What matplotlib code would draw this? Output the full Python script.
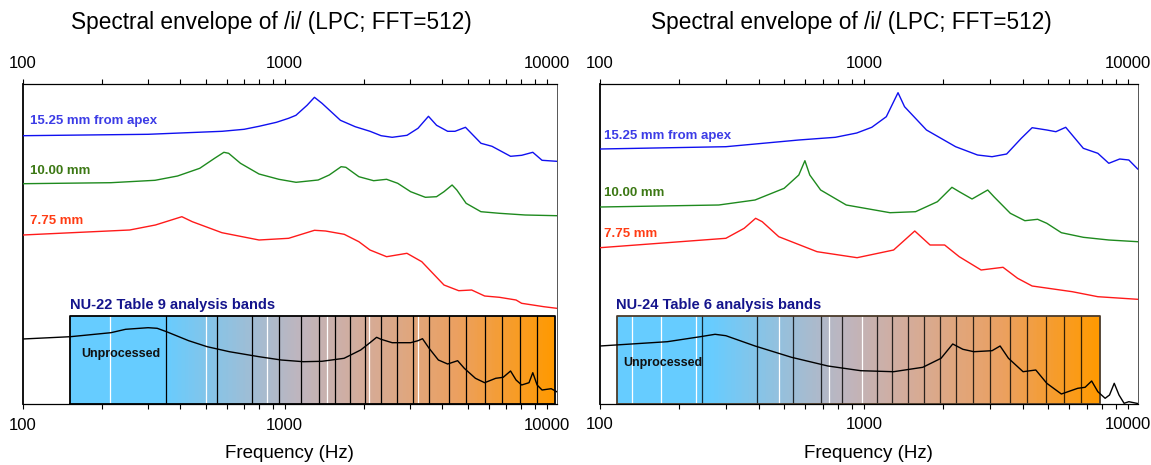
import numpy as np
import matplotlib
matplotlib.use("Agg")
import matplotlib.pyplot as plt
from matplotlib.colors import LinearSegmentedColormap
from matplotlib.ticker import LogLocator, FuncFormatter, NullFormatter
import matplotlib.transforms as mtransforms

plt.rcParams['font.family'] = ['Liberation Sans', 'DejaVu Sans']

# ---------------- data: left panel (NU-22) ----------------
L_BLUE_F = [100, 301, 577, 700, 798, 930, 1035, 1104, 1217, 1299, 1388, 1632, 1858, 2117, 2333, 2572,
            2930, 3227, 3538, 3800, 4188, 4467, 4898, 5614, 6183, 7280, 8027, 8851, 9600, 10920]
L_BLUE_Y = [268.6, 270, 273, 275, 278, 282, 286, 289, 299, 307, 301, 284, 277.6, 273, 268.6, 267,
            269, 276, 288, 279, 273, 273, 277, 261, 258, 248, 249, 252, 244, 243]

L_GREEN_F = [100, 217, 320, 390, 474, 540, 586, 611, 678, 798, 950, 1105, 1342, 1479, 1642, 1712, 1919,
             2185, 2449, 2700, 3025, 3443, 3798, 4055, 4355, 4539, 4926, 5610, 6600, 8285, 10920]
L_GREEN_Y = [220.6, 221.6, 224, 228.3, 236, 246, 252, 251, 241, 230.3, 225, 222, 224.3, 229.3, 237.6, 237,
             227.6, 223.6, 225, 221, 212.6, 207, 207.6, 212.6, 219.3, 214.3, 201, 192.6, 191, 189.3, 188.6]

L_RED_F = [100, 256, 321, 405, 444, 576, 798, 1035, 1299, 1432, 1687, 1919, 2116, 2449, 2928,
           3336, 3676, 4055, 4616, 5172, 5797, 6600, 7640, 8024, 8850, 9750, 10920]
L_RED_Y = [169.3, 174.3, 179.3, 187.6, 182.6, 171.6, 164.3, 166, 174, 173.3, 170, 162.6, 154.3, 147.6, 151,
           142.6, 131, 119.3, 113.6, 114.3, 108.3, 107, 104.3, 101, 99.3, 97.6, 96]

L_BLACK_F = [100, 152, 217, 247, 301, 326, 354, 430, 506, 615, 798, 970, 1178, 1387, 1685, 1950,
             2116, 2243, 2332, 2571, 3025, 3228, 3357, 3558, 3860, 4188, 4572, 4848, 5345, 5797,
             6390, 6823, 7280, 7640, 8024, 8561, 8851, 9193, 9600, 10404, 10920]
L_BLACK_Y = [65.3, 67.6, 71.6, 75, 76.6, 76, 72.6, 63.6, 57.6, 52.6, 47.6, 44.3, 42.6, 43, 46, 54.3,
             61.6, 67, 65, 61.6, 61.6, 63.6, 65.6, 56, 44.3, 40.3, 43.6, 36, 26, 21.6,
             26, 27, 33.3, 24.3, 19.3, 21.6, 31.6, 19.3, 14.3, 15.6, 12.6]

L_BAND_RANGE = [152, 10760]
L_BAND_BLACK = [352, 550, 752, 949, 1151, 1352, 1556, 1775, 2030, 2337, 2676, 3080, 3565,
                4227, 4920, 5798, 6769, 7888, 9183]
L_BAND_WHITE = [216, 502, 854, 1454, 2103, 3236]

# ---------------- data: right panel (NU-24) ----------------
R_BLUE_F = [100, 300, 567, 780, 940, 1072, 1217, 1348, 1427, 1728, 2228, 2698, 3063, 3479, 3953,
            4346, 4939, 5346, 5826, 6792, 7711, 8485, 9333, 10107, 10920]
R_BLUE_Y = [255, 257.3, 264, 266.7, 271, 276.7, 287.3, 311.3, 297.3, 274, 257.3, 249, 247.3, 250, 265.7,
            276.3, 274, 272.3, 276.7, 255.7, 250.7, 240.7, 245, 244, 235]

R_GREEN_F = [100, 282, 387, 499, 567, 598, 624, 686, 858, 1257, 1571, 1901, 2158, 2300, 2572,
             2949, 3113, 3592, 4079, 4560, 4939, 5609, 6792, 8485, 10920]
R_GREEN_Y = [197, 199, 204, 215.7, 229, 243.3, 229, 214, 199, 191.3, 192.3, 202.3, 216.7, 212.3, 205,
             214, 207.3, 190.7, 183.3, 184.7, 180.7, 171.3, 166.7, 164, 162.3]

R_RED_F = [100, 300, 352, 389, 412, 476, 665, 943, 1297, 1560, 1783, 2025, 2300, 2784, 3371,
           3828, 4346, 6170, 7711, 10920]
R_RED_Y = [156.3, 165.7, 175.7, 185.7, 182.3, 167.3, 152.3, 146.3, 154, 173, 159, 159, 147.3, 134, 136.7,
           125.7, 118, 112.3, 107.3, 104.7]

R_BLACK_F = [100, 180, 240, 273, 300, 387, 532, 731, 974, 1297, 1673, 1962, 2173, 2375, 2613,
             3063, 3286, 3535, 4015, 4487, 4939, 5609, 6471, 6900, 7306, 7711, 8219, 8538,
             8898, 9276, 9698, 10107, 10920]
R_BLACK_Y = [58, 62.3, 67.3, 69.7, 68.3, 58, 46.7, 38, 33.3, 32.3, 36.7, 45.7, 60, 54.7, 52.3,
             53.3, 58, 45.7, 32.3, 34, 20.7, 10, 15.7, 16.7, 23, 12.3, 5.7, 9,
             20.7, 9, 0.7, 2.3, 0.5]

R_BAND_RANGE = [116, 7884]
R_BAND_BLACK = [243, 393, 541, 688, 830, 1121, 1278, 1470, 1695, 1949, 2241, 2594, 3016,
                3570, 4157, 4920, 5723, 6679]
R_BAND_WHITE = [132, 171, 231, 475, 739, 983]

TITLE = "Spectral envelope of /i/ (LPC; FFT=512)"
SERIES_LABELS = ["15.25 mm from apex", "10.00 mm", "7.75 mm"]
LEFT_BAND_TITLE = "NU-22 Table 9 analysis bands"
RIGHT_BAND_TITLE = "NU-24 Table 6 analysis bands"
UNPROC = "Unprocessed"
XTICKS = [100, 1000, 10000]

# ---------------- style ----------------
C_BLUE, C_GREEN, C_RED = '#1010F0', '#1E8A1E', '#FF1A1A'
T_BLUE, T_GREEN, T_RED, T_NAVY = '#3C3CE6', '#3C7814', '#FF3C14', '#14148C'

band_cmap = LinearSegmentedColormap.from_list(
    'band', [(0.0, '#66CCFF'), (0.19, '#66CCFF'), (0.47, '#BEB5BE'),
             (0.60, '#D4AC9B'), (0.80, '#EBA060'), (1.0, '#FF9900')])

W, H = 1151, 465
fig = plt.figure(figsize=(W / 100, H / 100), dpi=100)


def px_axes(x0, x1, y0, y1):
    return fig.add_axes([x0 / W, 1 - y1 / H, (x1 - x0) / W, (y1 - y0) / H])


def setup(ax):
    ax.set_xscale('log')
    ax.set_xlim(100, 10920)
    ax.set_ylim(0, 320)
    ax.set_yticks([])
    ax.xaxis.set_major_locator(LogLocator(base=10))
    ax.xaxis.set_minor_locator(LogLocator(base=10, subs=np.arange(2, 10)))
    ax.xaxis.set_major_formatter(FuncFormatter(lambda v, p: f"{int(round(v))}"))
    ax.xaxis.set_minor_formatter(NullFormatter())
    ax.set_xticks(XTICKS)
    ax.tick_params(axis='x', which='both', top=True, bottom=True, labeltop=True,
                   labelbottom=True, direction='out', length=3.6, width=0.8,
                   labelsize=12, pad=6)
    for s in ['top', 'bottom']:
        ax.spines[s].set_linewidth(0.9)
    ax.spines['left'].set_linewidth(1.3)
    ax.spines['right'].set_linewidth(0.7)
    ax.spines['right'].set_color('#555555')
    ax.set_xlabel('Frequency (Hz)', fontsize=13.5, labelpad=9)


def draw_band(ax, rng, blacks, whites, edge, line_alpha):
    xe = np.geomspace(rng[0], rng[1], 400)
    vals = np.linspace(0, 1, len(xe) - 1)[None, :]
    ax.pcolormesh(xe, [0, 88], vals, cmap=band_cmap, shading='flat', zorder=1)
    for f in whites:
        ax.plot([f, f], [0, 88], color='white', lw=0.9, zorder=2)
    for f in blacks:
        ax.plot([f, f], [0, 88], color='black', lw=0.9, alpha=line_alpha, zorder=2)
    ax.plot([rng[0], rng[1], rng[1], rng[0], rng[0]], [0, 0, 88, 88, 0],
            color=edge, lw=1.3, zorder=3)


def draw_panel(ax, curves, band, band_title, lab_pos, title_x, band_txt_x, unp, edge, line_alpha):
    setup(ax)
    draw_band(ax, band[0], band[1], band[2], edge, line_alpha)
    for (f, y, c) in curves:
        ax.plot(f, y, color=c, lw=1.0, zorder=4, solid_joinstyle='round')
    trans = mtransforms.blended_transform_factory(ax.transAxes, ax.transData)
    for (txt, ypos, col) in zip(SERIES_LABELS, lab_pos[1], [T_BLUE, T_GREEN, T_RED]):
        ax.text(lab_pos[0], ypos, txt, color=col, fontsize=9.5, fontweight='bold',
                transform=trans, va='center', ha='left')
    ax.text(band_txt_x, 99, band_title, color=T_NAVY, fontsize=10.5, fontweight='bold',
            transform=trans, va='center', ha='left')
    ax.text(unp[0], unp[1], UNPROC, color='#111111', fontsize=9, fontweight='bold',
            transform=trans, va='center', ha='left', zorder=5)
    fig.text(title_x / W, 1 - 23 / H, TITLE, fontsize=16.3, ha='center', va='center')


axL = px_axes(22.7, 556.7, 84.3, 404.3)
axR = px_axes(600, 1137.7, 84, 404)

draw_panel(axL,
           [(L_BLUE_F, L_BLUE_Y, C_BLUE), (L_GREEN_F, L_GREEN_Y, C_GREEN),
            (L_RED_F, L_RED_Y, C_RED), (L_BLACK_F, L_BLACK_Y, 'black')],
           (L_BAND_RANGE, L_BAND_BLACK, L_BAND_WHITE), LEFT_BAND_TITLE,
           (0.0137, [283, 233.6, 183.6]), 271, 0.0886, (0.109, 50), 'black', 1.0)

draw_panel(axR,
           [(R_BLUE_F, R_BLUE_Y, C_BLUE), (R_GREEN_F, R_GREEN_Y, C_GREEN),
            (R_RED_F, R_RED_Y, C_RED), (R_BLACK_F, R_BLACK_Y, 'black')],
           (R_BAND_RANGE, R_BAND_BLACK, R_BAND_WHITE), RIGHT_BAND_TITLE,
           (0.007, [268, 211.3, 170]), 851, 0.0305, (0.043, 41), '#4A3A2A', 0.8)

fig.savefig('out.png', dpi=100)
